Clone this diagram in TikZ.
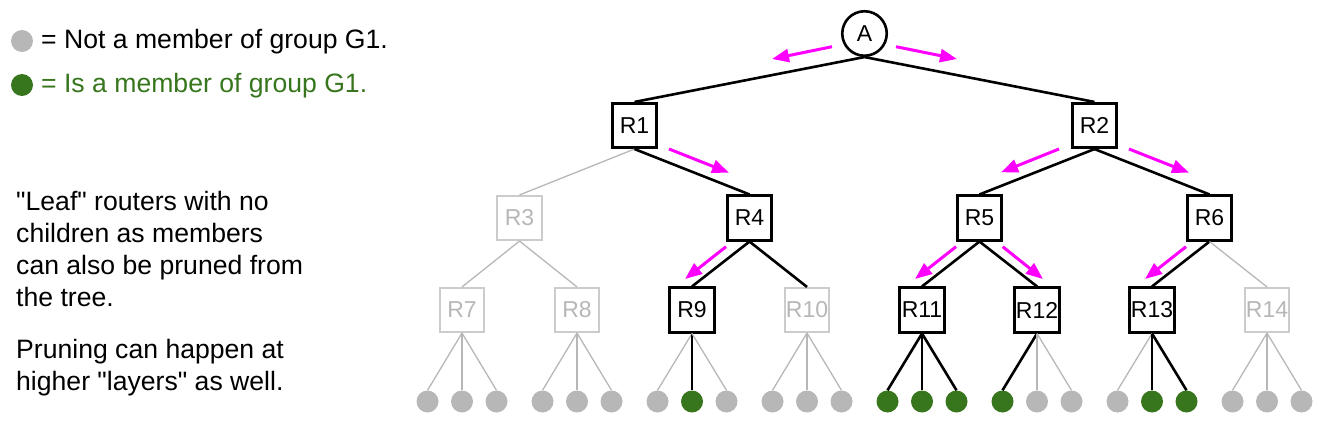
\documentclass[tikz,border=0pt]{standalone}
\usepackage{fontspec}
\setmainfont{Liberation Sans}
\newfontfamily\lsans{Liberation Sans}
\usetikzlibrary{arrows.meta}
\definecolor{ggreen}{HTML}{38761D}
\definecolor{lgray}{HTML}{B7B7B7}
\definecolor{bgray}{HTML}{CCCCCC}
\definecolor{mag}{HTML}{FF00FF}
\begin{document}
\begin{tikzpicture}[x=1pt,y=-1pt,
  rbox/.style={rectangle,minimum size=44.5pt,inner sep=0pt,fill=white,font=\lsans\fontsize{23}{27}\selectfont},
  on/.style={rbox,draw=black,line width=2.6pt},
  off/.style={rbox,draw=bgray,line width=1.6pt,text=lgray},
  rootnode/.style={circle,draw=black,line width=2.6pt,minimum size=44.5pt,inner sep=0pt,fill=white,font=\lsans\fontsize{23}{27}\selectfont},
  leafon/.style={circle,fill=ggreen,minimum size=22pt,inner sep=0pt},
  leafoff/.style={circle,fill=lgray,minimum size=22pt,inner sep=0pt},
  eon/.style={draw=black,line width=2.6pt},
  eoff/.style={draw=lgray,line width=1.3pt},
  prune/.style={draw=mag,line width=3pt,-{Triangle[length=17pt,width=13pt]}},
  txt/.style={anchor=base west,inner sep=0pt,font=\lsans\fontsize{26.6}{32}\selectfont}]
\useasboundingbox (0,0) rectangle (1328,425);

% legend
\node[leafoff] (kg) at (22,41) {};
\node[txt] (kgt) at (41,49) {= Not a member of group G1.};
\node[leafon] (kn) at (22,85) {};
\node[txt,text=ggreen] (knt) at (41,93) {= Is a member of group G1.};

% notes
\node[txt] (t1) at (16,210) {"Leaf" routers with no};
\node[txt] (t2) at (16,242) {children as members};
\node[txt] (t3) at (16,274) {can also be pruned from};
\node[txt] (t4) at (16,306) {the tree.};
\node[txt] (t5) at (16,358) {Pruning can happen at};
\node[txt] (t6) at (16,390) {higher "layers" as well.};

% routers
\node[rootnode] (A) at (864.5,33.5) {A};
\node[on] (R1) at (634.5,125.5) {R1};
\node[on] (R2) at (1094.5,125.5) {R2};
\node[off] (R3) at (519.5,218) {R3};
\node[on] (R4) at (749.5,218) {R4};
\node[on] (R5) at (979.5,218) {R5};
\node[on] (R6) at (1209.5,218) {R6};
\node[off] (R7) at (462,310) {R7};
\node[off] (R8) at (577,310) {R8};
\node[on] (R9) at (692,310) {R9};
\node[off] (R10) at (807,310) {R10};
\node[on] (R11) at (922,310) {R11};
\node[on] (R12) at (1037,310) {R12};
\node[on] (R13) at (1152,310) {R13};
\node[off] (R14) at (1267,310) {R14};

% tree edges
\draw[eon] (A.south) -- (R1.north);
\draw[eon] (A.south) -- (R2.north);
\draw[eoff] (R1.south) -- (R3.north);
\draw[eon] (R1.south) -- (R4.north);
\draw[eon] (R2.south) -- (R5.north);
\draw[eon] (R2.south) -- (R6.north);
\draw[eoff] (R3.south) -- (R7.north);
\draw[eoff] (R3.south) -- (R8.north);
\draw[eon] (R4.south) -- (R9.north);
\draw[eon] (R4.south) -- (R10.north);
\draw[eon] (R5.south) -- (R11.north);
\draw[eon] (R5.south) -- (R12.north);
\draw[eon] (R6.south) -- (R13.north);
\draw[eoff] (R6.south) -- (R14.north);

% leaves
\foreach \r/\x/\sa/\sb/\sc in {7/462/off/off/off, 8/577/off/off/off, 9/692/off/on/off, 10/807/off/off/off, 11/922/on/on/on, 12/1037/on/off/off, 13/1152/off/on/on, 14/1267/off/off/off}{
  \node[leaf\sa] (L\r-a) at (\x-34.5,401.5) {};
  \node[leaf\sb] (L\r-b) at (\x,401.5) {};
  \node[leaf\sc] (L\r-c) at (\x+34.5,401.5) {};
  \draw[e\sa] (R\r.south) -- (L\r-a.north);
  \draw[e\sb] (R\r.south) -- (L\r-b.north);
  \draw[e\sc] (R\r.south) -- (L\r-c.north);
}

% pruning / forwarding arrows
\coordinate (a1s) at (832,46.7);  \coordinate (a1e) at (772,59);
\coordinate (a2s) at (896,46.7);  \coordinate (a2e) at (957,59);
\coordinate (a3s) at (669,149);   \coordinate (a3e) at (729,172.7);
\coordinate (a4s) at (1059,149);  \coordinate (a4e) at (1001,172.3);
\coordinate (a5s) at (1129,149);  \coordinate (a5e) at (1189,172.7);
\coordinate (a6s) at (726,246.7); \coordinate (a6e) at (685,279);
\coordinate (a7s) at (956,246.7); \coordinate (a7e) at (915,279);
\coordinate (a8s) at (1002.7,246.7); \coordinate (a8e) at (1043,279);
\coordinate (a9s) at (1186,246.7); \coordinate (a9e) at (1145,279);
\foreach \i in {1,...,9}{\draw[prune] (a\i s) -- (a\i e);}
\end{tikzpicture}
\end{document}
